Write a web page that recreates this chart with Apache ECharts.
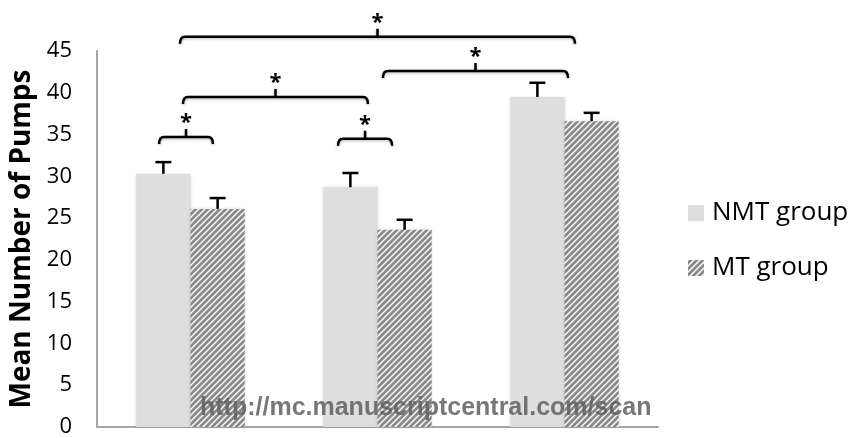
<!DOCTYPE html>
<html>
<head>
<meta charset="utf-8">
<script src="https://cdn.jsdelivr.net/npm/echarts@6/dist/echarts.min.js"></script>
<style>
  html, body { margin: 0; padding: 0; background: #fff; }
  #chart-container { width: 857px; height: 438px; }
</style>
</head>
<body>
<div id="chart-container"></div>
<script>
// data
var categories = ['1', '2', '3'];
var nmtValues = [30.3, 28.7, 39.5];
var nmtErrors = [1.4, 1.7, 1.7];
var mtValues = [26.1, 23.6, 36.6];
var mtErrors = [1.3, 1.2, 1.0];
// significance brackets: ends in category-band units, level on the value axis
var bracketFrom = [-0.168, -0.04, 0.789, 1.029, -0.056];
var bracketTo = [0.12, 0.949, 1.078, 2.019, 2.056];
var bracketLevel = [34.7, 39.5, 34.5, 42.6, 46.7];
var bracketLabel = ['*', '*', '*', '*', '*'];

// hatch pattern for the MT group
function hatch() {
    var c = document.createElement('canvas');
    c.width = 6; c.height = 6;
    var ctx = c.getContext('2d');
    ctx.fillStyle = '#8a8a8a';
    ctx.fillRect(0, 0, 6, 6);
    ctx.strokeStyle = '#ffffff';
    ctx.lineWidth = 1.4;
    ctx.beginPath();
    ctx.moveTo(-1, 7); ctx.lineTo(7, -1);
    ctx.moveTo(-4, 4); ctx.lineTo(4, -4);
    ctx.moveTo(2, 10); ctx.lineTo(10, 2);
    ctx.stroke();
    return c;
}

var dom = document.getElementById('chart-container');
var myChart = echarts.init(dom, null, { renderer: 'canvas' });

var barOffset = 0.145;

function errorSeries(values, errors, side) {
    return {
        type: 'custom',
        silent: true,
        z: 5,
        data: values.map(function (v, i) { return [i, v, errors[i]]; }),
        renderItem: function (params, api) {
            var band = api.size([1, 0])[0];
            var base = api.coord([api.value(0), api.value(1)]);
            var top = api.coord([api.value(0), api.value(1) + api.value(2)]);
            var x = base[0] + side * barOffset * band;
            return {
                type: 'group',
                children: [
                    { type: 'line', shape: { x1: x, y1: base[1], x2: x, y2: top[1] },
                      style: { stroke: '#000', lineWidth: 2.5 } },
                    { type: 'line', shape: { x1: x - 8, y1: top[1], x2: x + 8, y2: top[1] },
                      style: { stroke: '#000', lineWidth: 2.5 } }
                ]
            };
        }
    };
}

var option = {
    animation: false,
    grid: { left: 97, right: 199, top: 51, bottom: 11, outerBoundsMode: 'none', containLabel: false },
    legend: {
        orient: 'vertical',
        left: 683,
        top: 193,
        itemWidth: 16,
        itemHeight: 16,
        itemGap: 25,
        icon: 'rect',
        data: ['NMT group', 'MT group'],
        textStyle: { fontFamily: 'Open Sans', fontSize: 26, lineHeight: 30, color: '#000', padding: [0, 0, 0, 3] }
    },
    xAxis: {
        type: 'category',
        data: categories,
        axisLine: { lineStyle: { color: '#a6a6a6', width: 2 } },
        axisTick: { show: false },
        axisLabel: { show: false }
    },
    yAxis: {
        type: 'value',
        min: 0,
        max: 45,
        interval: 5,
        name: 'Mean Number of Pumps',
        nameLocation: 'middle',
        nameGap: 61,
        nameTextStyle: { fontFamily: 'Open Sans', fontWeight: 'bold', fontSize: 28, color: '#000' },
        axisLine: { show: true, lineStyle: { color: '#a6a6a6', width: 2 } },
        axisTick: { show: false },
        splitLine: { show: false },
        axisLabel: { fontFamily: 'Open Sans', fontSize: 22, color: '#000', margin: 25, padding: [6, 0, 0, 0] }
    },
    series: [
        {
            name: 'NMT group',
            type: 'bar',
            data: nmtValues,
            barGap: 0,
            barCategoryGap: '42%',
            itemStyle: { color: '#dedede', shadowColor: 'rgba(0,0,0,0.15)', shadowBlur: 3 }
        },
        {
            name: 'MT group',
            type: 'bar',
            data: mtValues,
            itemStyle: { color: { image: hatch(), repeat: 'repeat' }, shadowColor: 'rgba(0,0,0,0.15)', shadowBlur: 3 }
        },
        errorSeries(nmtValues, nmtErrors, -1),
        errorSeries(mtValues, mtErrors, 1),
        {
            type: 'custom',
            silent: true,
            z: 6,
            clip: false,
            data: bracketLevel.map(function (y) { return [0, y]; }),
            renderItem: function (params, api) {
                var i = params.dataIndex;
                var band = api.size([1, 0])[0];
                var base = api.coord([0, bracketLevel[i]]);
                var x1 = base[0] + bracketFrom[i] * band;
                var x2 = base[0] + bracketTo[i] * band;
                var xm = (x1 + x2) / 2;
                var y = base[1];
                var path = 'M' + x1 + ' ' + (y + 7) +
                    ' Q' + x1 + ' ' + y + ' ' + (x1 + 5) + ' ' + y +
                    ' L' + (x2 - 5) + ' ' + y +
                    ' Q' + x2 + ' ' + y + ' ' + x2 + ' ' + (y + 7) +
                    ' M' + xm + ' ' + y + ' L' + xm + ' ' + (y - 8);
                return {
                    type: 'group',
                    children: [
                        { type: 'path', shape: { pathData: path },
                          style: { fill: null, stroke: '#000', lineWidth: 2.5,
                                   shadowColor: 'rgba(0,0,0,0.3)', shadowBlur: 3, shadowOffsetY: 1 } },
                        { type: 'text', x: xm, y: y - 14,
                          style: { text: bracketLabel[i], fill: '#000', fontFamily: 'Open Sans',
                                   fontSize: 22, fontWeight: 'bold', align: 'center', verticalAlign: 'middle' } }
                    ]
                };
            }
        }
    ],
    graphic: [{
        type: 'text',
        left: 200,
        top: 396,
        z: 10,
        style: {
            text: 'http://mc.manuscriptcentral.com/scan',
            fill: 'rgba(95,95,95,0.85)',
            fontFamily: 'Liberation Sans',
            fontWeight: 'bold',
            fontSize: 25
        }
    }]
};

myChart.setOption(option);
window.addEventListener('resize', myChart.resize);
</script>
</body>
</html>
